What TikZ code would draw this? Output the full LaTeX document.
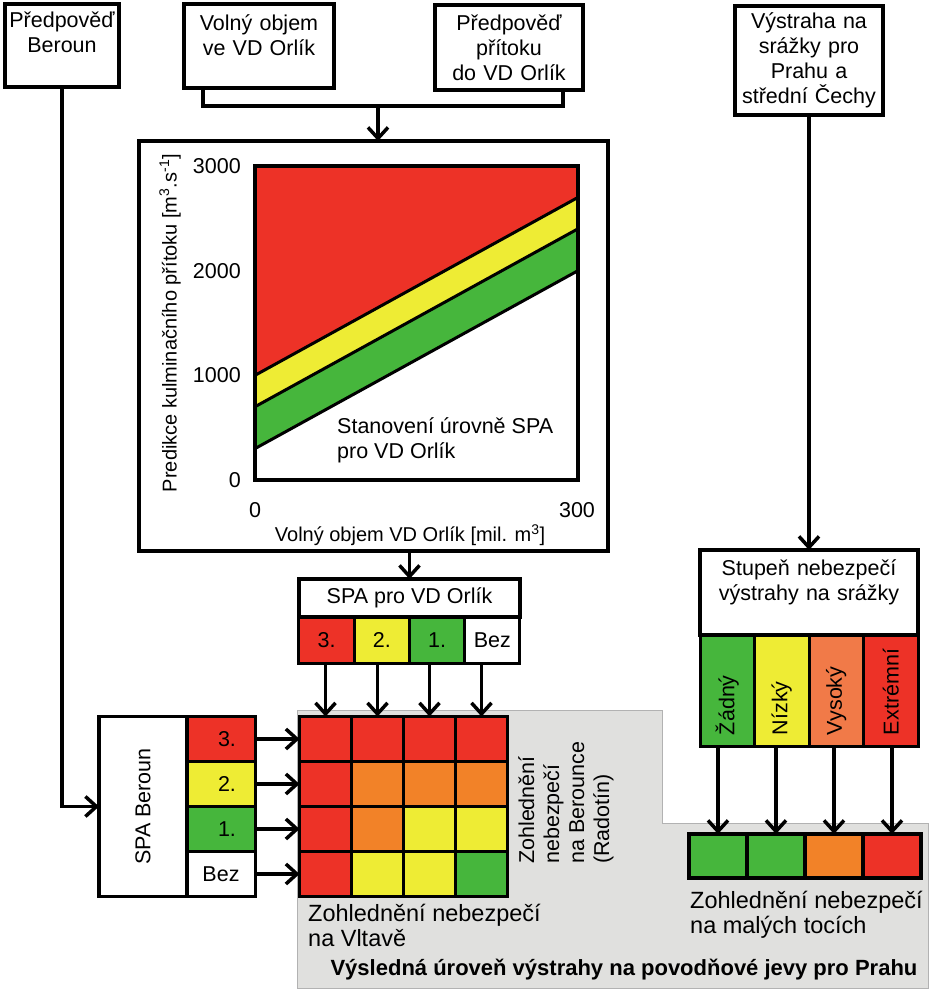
\documentclass[tikz,border=0pt]{standalone}
\usepackage{fontspec}
\setmainfont{Liberation Sans}
\usetikzlibrary{arrows.meta,positioning}
\definecolor{spared}{RGB}{237,50,39}
\definecolor{spayellow}{RGB}{238,236,52}
\definecolor{spagreen}{RGB}{70,182,60}
\definecolor{spaorange}{RGB}{242,130,40}
\definecolor{spasalmon}{RGB}{241,122,72}
\definecolor{spagray}{RGB}{224,224,222}
\newcommand{\dgfont}{\fontsize{21.5pt}{25pt}\selectfont}
\newcommand{\dgnotefont}{\fontsize{23.5pt}{25pt}\selectfont}
\newcommand{\dgaxisfont}{\fontsize{20pt}{24pt}\selectfont}

\begin{document}
\begin{tikzpicture}[
    x=1pt, y=-1pt,
    box/.style={rectangle, draw, line width=4pt, fill=white, align=center, inner sep=0pt, outer sep=0pt, font=\dgfont},
    cell/.style={rectangle, draw, line width=3pt, inner sep=0pt, outer sep=0pt, font=\dgfont},
    mcell/.style={cell, minimum width=52pt, minimum height=45pt},
    note/.style={align=left, inner sep=0pt, font=\dgnotefont},
    tick/.style={inner sep=0pt, font=\dgfont},
    axis/.style={inner sep=0pt, font=\dgaxisfont},
    line/.style={line width=3.5pt},
    arrow/.style={line, -{Straight Barb[length=11pt, width=20pt]}}
]
\useasboundingbox (0,0) rectangle (930,989);

% Result area
\fill[spagray, draw=gray!60, line width=1pt] (297,710) -- (662,710) -- (662,823) -- (928,823) -- (928,988) -- (297,988) -- cycle;

% Inputs
\node[box, anchor=north, text width=114pt, text height=23.5pt, text depth=59.5pt] (beroun) at (62,4) {Předpověď\\Beroun};
\node[box, anchor=north, text width=150pt, text height=26pt, text depth=58pt] (volny) at (259,4) {Volný objem\\ve VD Orlík};
\node[box, text width=148pt, minimum height=85pt] (pritok) at (509,47.5) {Předpověď\\přítoku\\do VD Orlík};
\node[box, text width=148pt, minimum height=109pt] (vystraha) at (809,60.5) {Výstraha na\\srážky pro\\Prahu a\\střední Čechy};
\coordinate (join) at (378,106);

% Orlik chart
\node[box, line width=3.5pt, minimum width=469pt, minimum height=410pt] (chart) at (373.5,346) {};
\begin{scope}[shift={(255,480)}, x=1.0767pt, y=0.10467pt]
  \fill[spared] (0,1000) -- (0,3000) -- (300,3000) -- (300,2700) -- cycle;
  \fill[spayellow] (0,700) -- (0,1000) -- (300,2700) -- (300,2400) -- cycle;
  \fill[spagreen] (0,300) -- (0,700) -- (300,2400) -- (300,2000) -- cycle;
  \draw[line width=3pt] (0,1000) -- (300,2700) (0,700) -- (300,2400) (0,300) -- (300,2000);
  \draw[line width=3.5pt] (0,0) rectangle (300,3000);
\end{scope}
\node[tick, anchor=east] (y3000) at (241,166) {3000};
\node[tick, anchor=east] (y2000) at (241,271) {2000};
\node[tick, anchor=east] (y1000) at (241,375) {1000};
\node[tick, anchor=east] (y0) at (241,480) {0};
\node[tick] (x0) at (255,510) {0};
\node[tick] (x300) at (577,510) {300};
\node[axis] (xtitle) at (410,535) {Volný objem VD Orlík [mil. m\textsuperscript{3}]};
\node[axis, rotate=90] (ytitle) at (170,323) {Predikce kulminačního přítoku [m\textsuperscript{3}.s\textsuperscript{-1}]};
\node[tick, align=left, anchor=west] (stanoveni) at (337,440) {Stanovení úrovně SPA\\pro VD Orlík};

% SPA Orlik
\node[box, line width=3.5pt, minimum width=221pt, minimum height=38pt] (spaorlik) at (409.5,598) {SPA pro VD Orlík};
\node[cell, fill=spared, minimum width=55.25pt, minimum height=46pt] (o3) at (326.6,640) {3.};
\node[cell, fill=spayellow, minimum width=55.25pt, minimum height=46pt, right=0pt of o3] (o2) {2.};
\node[cell, fill=spagreen, minimum width=55.25pt, minimum height=46pt, right=0pt of o2] (o1) {1.};
\node[cell, fill=white, minimum width=55.25pt, minimum height=46pt, right=0pt of o1] (obez) {Bez};

% SPA Beroun
\node[box, line width=3.5pt, minimum width=88pt, minimum height=180pt] (spaberoun) at (143,806.5) {\rotatebox{90}{SPA Beroun}};
\node[cell, fill=spared, minimum width=68pt, minimum height=45pt] (b3) at (221,739) {\hspace*{12pt}3.};
\node[cell, fill=spayellow, minimum width=68pt, minimum height=45pt, below=0pt of b3] (b2) {\hspace*{12pt}2.};
\node[cell, fill=spagreen, minimum width=68pt, minimum height=45pt, below=0pt of b2] (b1) {\hspace*{12pt}1.};
\node[cell, fill=white, minimum width=68pt, minimum height=45pt, below=0pt of b1] (bbez) {Bez};

% Vltava matrix
\node[mcell, fill=spared] (m11) at (325.5,739) {};
\node[mcell, fill=spared, right=0pt of m11] (m12) {};
\node[mcell, fill=spared, right=0pt of m12] (m13) {};
\node[mcell, fill=spared, right=0pt of m13] (m14) {};
\node[mcell, fill=spared, below=0pt of m11] (m21) {};
\node[mcell, fill=spaorange, right=0pt of m21] (m22) {};
\node[mcell, fill=spaorange, right=0pt of m22] (m23) {};
\node[mcell, fill=spaorange, right=0pt of m23] (m24) {};
\node[mcell, fill=spared, below=0pt of m21] (m31) {};
\node[mcell, fill=spaorange, right=0pt of m31] (m32) {};
\node[mcell, fill=spayellow, right=0pt of m32] (m33) {};
\node[mcell, fill=spayellow, right=0pt of m33] (m34) {};
\node[mcell, fill=spared, below=0pt of m31] (m41) {};
\node[mcell, fill=spayellow, right=0pt of m41] (m42) {};
\node[mcell, fill=spayellow, right=0pt of m42] (m43) {};
\node[mcell, fill=spagreen, right=0pt of m43] (m44) {};
\node[note, anchor=west] (vltava) at (308,925) {Zohlednění nebezpečí\\na Vltavě};
\node[tick, align=left, rotate=90, anchor=north west] (berounka) at (518,864) {Zohlednění\\nebezpečí\\na Berounce\\(Radotín)};

% Precipitation warning
\node[box, anchor=north, text width=218pt, text height=25.5pt, text depth=59.5pt] (stupen) at (809,550) {Stupeň nebezpečí\\výstrahy na srážky};
\node[cell, fill=spagreen, minimum width=54.5pt, minimum height=111pt] (zadny) at (727.25,690.5) {\rotatebox{90}{\makebox[89pt][l]{Žádný}}};
\node[cell, fill=spayellow, minimum width=54.5pt, minimum height=111pt, right=0pt of zadny] (nizky) {\rotatebox{90}{\makebox[89pt][l]{Nízký}}};
\node[cell, fill=spasalmon, minimum width=54.5pt, minimum height=111pt, right=0pt of nizky] (vysoky) {\rotatebox{90}{\makebox[89pt][l]{Vysoký}}};
\node[cell, fill=spared, minimum width=54.5pt, minimum height=111pt, right=0pt of vysoky] (extremni) {\rotatebox{90}{\makebox[89pt][l]{Extrémní}}};

% Small streams
\node[cell, line width=3.5pt, fill=spagreen, minimum width=58pt, minimum height=44pt] (r1) at (718,856) {};
\node[cell, line width=3.5pt, fill=spagreen, minimum width=58pt, minimum height=44pt, right=0pt of r1] (r2) {};
\node[cell, line width=3.5pt, fill=spaorange, minimum width=58pt, minimum height=44pt, right=0pt of r2] (r3) {};
\node[cell, line width=3.5pt, fill=spared, minimum width=58pt, minimum height=44pt, right=0pt of r3] (r4) {};
\node[note, anchor=west] (toky) at (690,914.5) {Zohlednění nebezpečí\\na malých tocích};

\node[font=\bfseries\fontsize{22pt}{25pt}\selectfont, inner sep=0pt] (vysledna) at (624,970) {Výsledná úroveň výstrahy na povodňové jevy pro Prahu};

% Arrows
\draw[line] ([xshift=19pt]volny.south west) |- (join) -| ([xshift=-20pt]pritok.south east);
\draw[arrow] (join) -- (chart.north -| join);
\draw[arrow] (chart.south -| spaorlik.north) -- (spaorlik.north);
\draw[arrow] (o3.south -| m11.north) -- (m11.north);
\draw[arrow] (o2.south -| m12.north) -- (m12.north);
\draw[arrow] (o1.south -| m13.north) -- (m13.north);
\draw[arrow] (obez.south -| m14.north) -- (m14.north);
\draw[arrow] (beroun.south) |- (spaberoun.west);
\draw[arrow] (b3.east) -- (m11.west);
\draw[arrow] (b2.east) -- (m21.west);
\draw[arrow] (b1.east) -- (m31.west);
\draw[arrow] (bbez.east) -- (m41.west);
\draw[arrow] (vystraha) -- (stupen);
\draw[arrow] (zadny.south -| r1.north) -- (r1.north);
\draw[arrow] (nizky.south -| r2.north) -- (r2.north);
\draw[arrow] (vysoky.south -| r3.north) -- (r3.north);
\draw[arrow] (extremni.south -| r4.north) -- (r4.north);

\end{tikzpicture}
\end{document}
